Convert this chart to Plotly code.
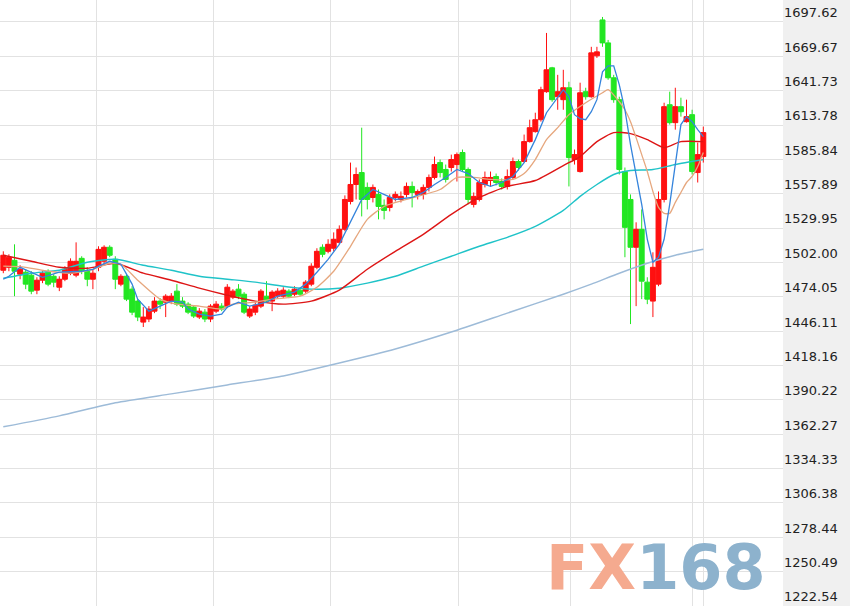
import plotly.graph_objects as go

# ---------------- data ----------------
idx = list(range(126))

opens = [1495.6,1498.0,1503.7,1492.4,1494.0,1491.6,1479.4,1487.5,1494.0,1490.7,
         1481.8,1488.3,1493.2,1491.6,1505.3,1494.8,1488.3,1498.0,1502.9,1514.3,
         1504.5,1484.3,1490.7,1480.2,1470.5,1453.4,1455.9,1462.3,1470.5,1469.6,
         1470.5,1478.6,1470.5,1468.0,1465.6,1457.5,1461.5,1455.9,1462.3,1466.4,
         1466.4,1473.7,1480.2,1476.1,1458.3,1461.5,1466.4,1474.5,1470.5,1474.5,
         1474.5,1478.6,1476.1,1479.4,1478.6,1484.3,1498.0,1514.3,1511.0,1513.5,
         1518.3,1528.9,1551.6,1565.4,1575.1,1563.0,1554.8,1557.3,1548.4,1546.7,
         1554.8,1553.2,1557.3,1563.8,1557.3,1557.3,1563.0,1571.1,1583.2,1577.6,
         1579.2,1581.6,1591.4,1577.6,1549.2,1553.2,1565.4,1568.6,1571.9,1567.8,
         1563.8,1571.1,1584.1,1584.1,1600.3,1608.4,1618.1,1640.9,1660.3,1636.8,
         1634.4,1644.1,1585.7,1575.9,1640.9,1636.8,1670.1,1699.3,1680.6,1652.2,
         1634.4,1575.9,1553.2,1514.3,1528.9,1485.9,1470.5,1484.3,1553.2,1630.3,
         1615.7,1628.7,1616.5,1622.2,1575.1,1588.1]

highs = [1511.0,1508.6,1516.7,1499.7,1496.4,1494.8,1489.9,1494.8,1496.4,1492.4,
         1490.7,1498.9,1505.3,1518.3,1507.0,1498.0,1496.4,1515.1,1515.9,1515.9,
         1507.0,1492.4,1492.4,1482.6,1472.1,1465.6,1466.4,1473.7,1472.9,1476.1,
         1477.0,1484.3,1473.7,1469.6,1467.2,1464.8,1464.0,1468.0,1470.5,1468.8,
         1484.3,1480.2,1484.3,1477.8,1466.4,1469.6,1480.2,1486.7,1479.4,1481.0,
         1481.8,1480.2,1482.6,1481.0,1487.5,1501.3,1513.5,1516.7,1520.8,1526.4,
         1532.1,1556.5,1583.2,1579.2,1611.6,1567.0,1565.4,1561.3,1553.2,1557.3,
         1559.7,1559.7,1567.0,1567.8,1561.3,1565.4,1573.5,1588.1,1585.7,1581.6,
         1589.7,1591.4,1593.8,1579.2,1558.9,1569.5,1575.9,1575.9,1574.3,1570.3,
         1577.6,1587.3,1585.7,1606.0,1618.1,1623.8,1644.9,1688.7,1661.1,1654.6,
         1658.7,1649.0,1593.8,1648.2,1644.1,1677.4,1677.4,1701.7,1683.0,1654.6,
         1636.8,1579.2,1557.3,1534.6,1545.1,1489.9,1510.2,1559.7,1631.9,1640.9,
         1644.1,1636.0,1634.4,1626.2,1599.5,1612.5]

lows = [1493.2,1494.8,1474.5,1488.3,1480.2,1476.1,1476.1,1485.1,1482.6,1481.8,
        1478.6,1486.7,1491.6,1489.9,1492.4,1482.6,1480.2,1494.8,1500.5,1506.2,
        1480.2,1482.6,1470.5,1459.1,1454.2,1449.4,1453.4,1460.7,1464.0,1457.5,
        1468.0,1466.4,1464.8,1459.9,1456.7,1455.9,1453.4,1453.4,1460.7,1462.3,
        1464.8,1472.1,1472.1,1459.9,1456.7,1459.1,1464.8,1469.6,1462.3,1472.9,
        1472.9,1472.9,1474.5,1474.5,1477.0,1482.6,1496.4,1506.2,1509.4,1511.0,
        1516.7,1527.3,1549.2,1553.2,1539.4,1545.1,1550.8,1537.0,1537.0,1543.5,
        1551.6,1550.8,1554.8,1546.7,1553.2,1553.2,1559.7,1569.5,1571.1,1567.0,
        1575.9,1567.8,1575.9,1549.2,1546.7,1551.6,1563.0,1563.8,1564.6,1561.3,
        1561.3,1569.5,1576.8,1583.2,1599.5,1607.6,1616.5,1640.0,1632.7,1626.2,
        1626.2,1563.8,1581.6,1575.1,1634.4,1636.0,1668.4,1677.4,1650.6,1631.9,
        1573.5,1506.2,1451.8,1466.4,1472.1,1468.0,1457.5,1482.6,1550.8,1614.1,
        1610.0,1620.6,1615.7,1573.5,1567.0,1583.2]

closes = [1507.8,1506.2,1494.8,1496.4,1484.3,1478.6,1487.5,1493.2,1484.3,1485.9,
          1488.3,1496.4,1502.9,1502.9,1494.8,1488.3,1493.2,1512.6,1514.3,1507.8,
          1488.3,1490.7,1472.1,1461.5,1457.5,1457.5,1464.0,1470.5,1468.0,1474.5,
          1474.5,1468.0,1466.4,1461.5,1458.3,1462.3,1455.9,1466.4,1468.0,1464.0,
          1481.8,1478.6,1474.5,1461.5,1464.0,1467.2,1478.6,1470.5,1477.8,1478.6,
          1479.4,1474.5,1480.2,1476.1,1485.9,1498.9,1511.0,1508.6,1516.7,1520.8,
          1528.9,1553.2,1565.4,1573.5,1553.2,1553.2,1563.0,1547.5,1544.3,1554.8,
          1557.3,1555.7,1563.8,1558.9,1559.7,1563.0,1571.1,1581.6,1575.1,1569.5,
          1585.7,1589.7,1577.6,1553.2,1555.7,1567.0,1571.1,1571.1,1567.0,1563.8,
          1571.9,1584.1,1579.2,1600.3,1611.6,1618.1,1642.5,1658.7,1634.4,1640.9,
          1644.1,1587.3,1589.7,1640.0,1636.8,1672.5,1673.3,1680.6,1652.2,1634.4,
          1577.6,1530.5,1514.3,1528.9,1486.7,1472.1,1498.0,1553.2,1628.7,1615.7,
          1628.7,1624.6,1620.6,1575.9,1589.7,1607.6]

ma5_idx = [0,1,3,5,7,10,14,16,17,19,21,22,23,24,26,28,30,32,33,35,37,39,40,42,44,47,
           49,52,54,56,58,60,62,64,66,68,70,73,75,77,79,81,83,85,87,89,91,93,95,97,
           99,100,101,102,103,104,105,106,107,108,109,110,111,112,113,114,115,116,
           117,118,119,120,121,122,123,124,125]
ma5_val = [1488.3,1490.7,1498.0,1494.0,1489.9,1494.0,1494.8,1496.4,1498.9,1502.9,
           1500.5,1492.4,1484.3,1472.1,1462.3,1466.4,1470.5,1469.6,1464.0,1459.9,
           1458.3,1459.9,1465.6,1469.6,1466.4,1469.6,1474.5,1477.8,1484.3,1494.0,
           1504.5,1516.7,1534.6,1553.2,1561.3,1557.3,1553.2,1554.8,1558.9,1565.4,
           1571.1,1577.6,1574.3,1567.0,1563.8,1567.0,1571.9,1583.2,1601.9,1623.8,
           1636.0,1642.5,1636.8,1622.2,1618.9,1618.1,1624.6,1634.4,1657.1,1661.9,
           1661.9,1646.5,1626.2,1597.9,1573.5,1549.2,1520.8,1502.1,1506.2,1520.8,
           1549.2,1583.2,1614.1,1620.6,1616.5,1610.0,1604.3]

ma10_idx = [0,4,8,12,16,19,21,24,28,31,35,39,41,45,48,53,56,59,62,65,68,72,78,81,84,
            87,91,93,95,97,99,101,104,107,108,110,111,112,113,114,115,116,117,118,
            119,120,121,122,123,124,125]
ma10_val = [1498.9,1498.0,1494.8,1493.2,1496.4,1501.3,1500.5,1487.5,1472.1,1468.0,
            1466.4,1464.0,1468.0,1469.6,1472.1,1474.5,1481.8,1494.8,1515.1,1537.0,
            1547.5,1553.2,1561.3,1571.1,1571.1,1569.5,1569.5,1574.3,1585.7,1601.9,
            1611.6,1622.2,1631.9,1640.0,1642.5,1632.7,1626.2,1616.5,1603.5,1589.7,
            1575.9,1559.7,1546.7,1541.9,1541.9,1550.8,1558.9,1567.0,1571.9,1580.0,
            1591.4]

ma20_idx = [0,5,10,15,20,25,30,35,40,45,50,55,60,65,70,75,80,85,90,95,100,103,106,
            109,112,115,118,121,125]
ma20_val = [1507.8,1502.9,1498.0,1497.2,1501.3,1493.2,1487.5,1481.0,1475.3,1470.5,
            1468.0,1470.5,1479.4,1496.4,1511.0,1524.8,1541.0,1554.8,1563.8,1568.6,
            1580.8,1588.1,1600.3,1607.6,1606.8,1601.9,1595.4,1600.3,1600.3]

ma60_idx = [0,5,10,15,20,25,30,35,40,45,50,55,60,65,70,75,80,85,90,95,100,103,106,
            109,112,116,120,125]
ma60_val = [1489.1,1493.2,1495.6,1502.1,1504.5,1499.7,1495.6,1490.7,1488.3,1485.9,
            1482.6,1480.2,1481.0,1485.1,1490.7,1498.9,1507.0,1515.1,1522.4,1531.3,
            1544.3,1555.7,1565.4,1573.5,1576.8,1577.6,1581.6,1585.7]

ma120_idx = [0,10,20,30,40,50,60,70,80,90,100,105,110,115,120,125]
ma120_val = [1368.2,1377.1,1387.7,1395.0,1402.3,1409.6,1420.1,1431.5,1445.3,1460.7,
             1476.1,1484.3,1493.2,1501.3,1507.8,1512.6]

y_ticks = [1697.62,1669.67,1641.73,1613.78,1585.84,1557.89,1529.95,1502.00,1474.05,
           1446.11,1418.16,1390.22,1362.27,1334.33,1306.38,1278.44,1250.49,1222.54]
x_grid = [16.7, 37.5, 58.5, 81.2, 101.2, 123.0, 125.0]

# ---------------- figure ----------------
UP = "#ff1010"
DOWN = "#22e622"

fig = go.Figure()

def ma_line(xs, ys, color, width=1.3, shape="spline"):
    fig.add_trace(go.Scatter(x=xs, y=ys, mode="lines",
                             line=dict(color=color, width=width, shape=shape, smoothing=0.6),
                             hoverinfo="skip", showlegend=False))

ma_line(ma120_idx, ma120_val, "#9dbbd8", width=1.5)
ma_line(ma60_idx, ma60_val, "#1fc3c8", width=1.4)
ma_line(ma20_idx, ma20_val, "#dd1515", width=1.4)

fig.add_trace(go.Candlestick(
    x=idx, open=opens, high=highs, low=lows, close=closes,
    increasing=dict(line=dict(color=UP, width=1), fillcolor=UP),
    decreasing=dict(line=dict(color=DOWN, width=1), fillcolor=DOWN),
    whiskerwidth=0, showlegend=False, hoverinfo="skip"))

ma_line(ma10_idx, ma10_val, "#e6a77e")
ma_line(ma5_idx, ma5_val, "#3584dc", shape="linear")

fig.add_annotation(
    x=0.838, y=0.063, xref="paper", yref="paper", showarrow=False,
    xanchor="center", yanchor="middle",
    text='<b><span style="color:#f5aa8f">FX</span><span style="color:#8db2cd">168</span></b>',
    font=dict(family="DejaVu Sans", size=62))

fig.update_layout(
    width=850, height=606,
    margin=dict(l=0, r=67, t=0, b=0, autoexpand=False),
    paper_bgcolor="#f0f0f0", plot_bgcolor="#ffffff",
    showlegend=False,
    boxgap=0.12, boxgroupgap=0,
    xaxis=dict(range=[-0.589, 139.23], rangeslider=dict(visible=False),
               tickvals=x_grid, showticklabels=False, ticks="",
               showgrid=True, gridcolor="#e2e2e2", gridwidth=1, zeroline=False,
               fixedrange=True),
    yaxis=dict(range=[1222.4, 1715.5], side="right", tickvals=y_ticks,
               ticktext=[f"{v:.2f}" for v in y_ticks], ticks="",
               ticklabelposition="outside top",
               tickfont=dict(family="DejaVu Sans", size=13, color="#222222"),
               showgrid=True, gridcolor="#e2e2e2", gridwidth=1, zeroline=False,
               fixedrange=True),
)

fig.write_html("out.html", config={"displayModeBar": False},
               post_script="document.body.style.margin='0';document.body.style.overflow='hidden';")
